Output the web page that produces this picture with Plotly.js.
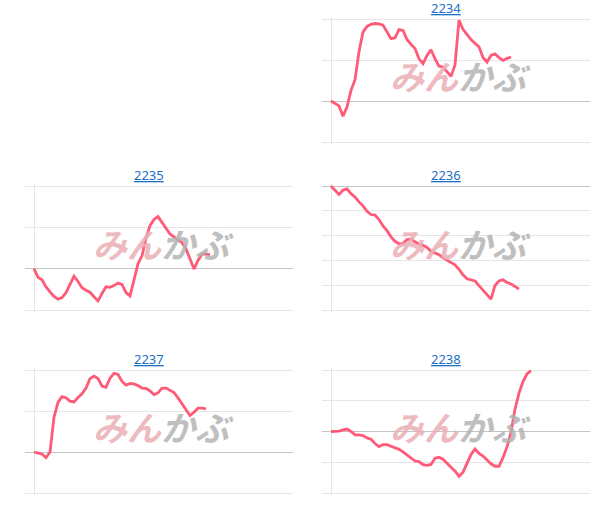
<!DOCTYPE html>
<html>
<head>
<meta charset="utf-8">
<script src="https://cdn.plot.ly/plotly-3.0.1.min.js"></script>
<style>html,body{margin:0;padding:0;background:#fff;}#chart{width:607px;height:520px;}</style>
</head>
<body>
<div id="chart"></div>
<script>
// Chart titles (codes)
const codes = ["2234", "2235", "2236", "2237", "2238"];

// Series values, relative to the first point (one unit = one grid step)
const s2234 = [0, -0.05, -0.12, -0.37, -0.15, 0.26, 0.52, 1.2, 1.68, 1.82, 1.87, 1.89, 1.88, 1.85, 1.68, 1.52, 1.54, 1.74, 1.72, 1.5,
  1.38, 1.28, 1.03, 0.91, 1.11, 1.25, 1.03, 0.85, 0.83, 0.72, 0.6, 0.88, 1.97, 1.75, 1.62, 1.5, 1.41, 1.32, 1.06, 0.95,
  1.11, 1.15, 1.06, 0.99, 1.04, 1.07];
const s2235 = [0, -0.21, -0.27, -0.44, -0.56, -0.67, -0.74, -0.70, -0.58, -0.39, -0.18, -0.31, -0.46, -0.52, -0.57, -0.68, -0.78, -0.60, -0.44, -0.45,
  -0.41, -0.35, -0.38, -0.58, -0.66, -0.27, 0.12, 0.31, 0.74, 1.04, 1.19, 1.26, 1.12, 0.97, 0.84, 0.77, 0.71, 0.63, 0.48, 0.22,
  -0.01, 0.20, 0.35, 0.35, 0.34];
const s2236 = [0, -0.16, -0.34, -0.17, -0.12, -0.31, -0.44, -0.64, -0.80, -1.02, -1.15, -1.17, -1.35, -1.61, -1.80, -2.05, -2.23, -2.33, -2.32, -2.16,
  -2.14, -2.25, -2.35, -2.39, -2.48, -2.63, -2.71, -2.77, -2.90, -2.99, -3.06, -3.18, -3.36, -3.58, -3.74, -3.78, -3.83, -4.02, -4.18, -4.38,
  -4.56, -4.01, -3.83, -3.78, -3.89, -3.95, -4.05, -4.16];
const s2237 = [0, -0.02, -0.05, -0.14, 0.0, 0.85, 1.21, 1.35, 1.32, 1.24, 1.22, 1.33, 1.42, 1.56, 1.79, 1.85, 1.79, 1.61, 1.58, 1.80,
  1.92, 1.89, 1.72, 1.63, 1.67, 1.66, 1.62, 1.56, 1.55, 1.49, 1.40, 1.44, 1.56, 1.56, 1.50, 1.45, 1.32, 1.17, 1.04, 0.89,
  0.97, 1.07, 1.07, 1.05];
const s2238 = [0, 0, 0.01, 0.05, 0.08, 0, -0.11, -0.11, -0.13, -0.21, -0.25, -0.39, -0.49, -0.43, -0.43, -0.48, -0.53, -0.58, -0.66, -0.76,
  -0.87, -0.96, -0.98, -1.08, -1.10, -1.07, -0.87, -0.84, -0.90, -1.04, -1.16, -1.28, -1.46, -1.32, -1.02, -0.75, -0.57, -0.71, -0.80, -0.93,
  -1.05, -1.13, -1.13, -0.85, -0.50, -0.03, 0.73, 1.25, 1.62, 1.87, 1.98];

const seriesList = [s2234, s2235, s2236, s2237, s2238];
const yRanges = [[-1, 2], [-1, 2], [-5, 0], [-1, 2], [-2, 2]];

const W = 607, H = 520;
const colsX = { L: [25, 293], R: [322, 590] };
const rowsY = { T: [19, 142], M: [186, 310], B: [370, 493] };
const cells = [["R", "T"], ["L", "M"], ["R", "M"], ["L", "B"], ["R", "B"]];
const titleX = { L: 149, R: 446 };

const lineColor = "#ff5a77";
const data = [];
const layout = {
  width: W, height: H,
  margin: { l: 0, r: 0, t: 0, b: 0 },
  paper_bgcolor: "#ffffff", plot_bgcolor: "#ffffff",
  showlegend: false,
  annotations: [],
  font: { family: "Noto Sans CJK JP, Noto Sans, sans-serif" }
};

seriesList.forEach((vals, i) => {
  const n = i + 1;
  const xa = n === 1 ? "x" : "x" + n;
  const ya = n === 1 ? "y" : "y" + n;
  const [c, r] = cells[i];
  const xd = colsX[c], yd = rowsY[r];
  data.push({
    type: "scatter", mode: "lines",
    x: vals.map((_, k) => k), y: vals,
    xaxis: xa, yaxis: ya,
    line: { color: lineColor, width: 2.8, shape: "linear" },
    hoverinfo: "skip"
  });
  const xKey = n === 1 ? "xaxis" : "xaxis" + n;
  const yKey = n === 1 ? "yaxis" : "yaxis" + n;
  layout[xKey] = {
    domain: [xd[0] / W, xd[1] / W], anchor: ya,
    range: [-2.25, 64.75], showgrid: false, showticklabels: false, ticks: "",
    zeroline: true, zerolinecolor: "#e6e6e6", zerolinewidth: 1, showline: false, fixedrange: true
  };
  const yr = yRanges[i];
  // pad by 2 px so the edge grid lines are drawn
  const pxPerUnit = (yd[1] - yd[0]) / (yr[1] - yr[0]);
  const pad = 2 / pxPerUnit;
  layout[yKey] = {
    domain: [1 - (yd[1] + 2) / H, 1 - (yd[0] - 2) / H], anchor: xa,
    range: [yr[0] - pad, yr[1] + pad], dtick: 1, tick0: 0, showgrid: true, gridcolor: "#e6e6e6", gridwidth: 1,
    showticklabels: false, ticks: "",
    zeroline: true, zerolinecolor: "#c4c4c4", zerolinewidth: 1, showline: false, fixedrange: true
  };
  // title link
  layout.annotations.push({
    xref: "paper", yref: "paper", x: titleX[c] / W, y: 1 - (yd[0] - 11) / H,
    xanchor: "center", yanchor: "middle", showarrow: false,
    text: "<u>" + codes[i] + "</u>",
    font: { family: "Noto Sans, Liberation Sans, sans-serif", size: 13, color: "#1d6fc6" }
  });
  // watermark
  layout.annotations.push({
    xref: "paper", yref: "paper", x: ((xd[0] + xd[1]) / 2 + 4) / W, y: 1 - ((yd[0] + yd[1]) / 2 - 5) / H,
    xanchor: "center", yanchor: "middle", showarrow: false, opacity: 0.85,
    text: "<b><i><span style='color:#eab0b4'>みん</span><span style='color:#b4b4b4'>かぶ</span></i></b>",
    font: { family: "Noto Sans CJK JP, sans-serif", size: 34 }
  });
});

Plotly.newPlot("chart", data, layout, { displayModeBar: false, staticPlot: true });
</script>
</body>
</html>
